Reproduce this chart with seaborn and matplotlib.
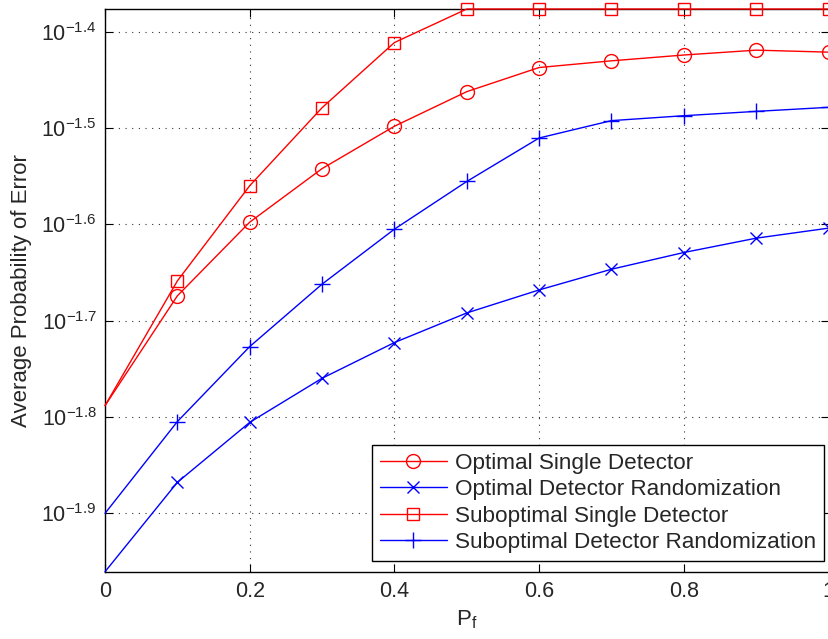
import numpy as np
import pandas as pd
import matplotlib
matplotlib.use("Agg")
import matplotlib.pyplot as plt
from matplotlib.ticker import FixedLocator, NullLocator, FixedFormatter
import seaborn as sns

# False-alarm probability grid
pf = [0.0, 0.1, 0.2, 0.3, 0.4, 0.5, 0.6, 0.7, 0.8, 0.9, 1.0]

# Average probability of error for each scheme
optimal_single = [0.01629, 0.02118, 0.02526, 0.02871, 0.03177, 0.03451,
                  0.03656, 0.03715, 0.03767, 0.03811, 0.03793]
optimal_random = [0.01095, 0.01356, 0.01565, 0.01739, 0.01894, 0.02033,
                  0.02148, 0.02257, 0.02349, 0.02431, 0.02490]
subopt_single = [0.01629, 0.02195, 0.02756, 0.03321, 0.03881, 0.04205,
                 0.04205, 0.04205, 0.04205, 0.04205, 0.04205]
subopt_random = [0.01259, 0.01568, 0.01876, 0.02178, 0.02484, 0.02784,
                 0.03089, 0.03220, 0.03258, 0.03292, 0.03324]

series_names = ["Optimal Single Detector",
                "Optimal Detector Randomization",
                "Suboptimal Single Detector",
                "Suboptimal Detector Randomization"]

ytick_exps = [-1.9, -1.8, -1.7, -1.6, -1.5, -1.4]
xticks = [0, 0.2, 0.4, 0.6, 0.8, 1]
xtick_labels = ["0", "0.2", "0.4", "0.6", "0.8", "1"]

sns.set_theme(style="white")
plt.rcParams["font.family"] = ["Liberation Sans", "DejaVu Sans"]
plt.rcParams["mathtext.fontset"] = "custom"
plt.rcParams["mathtext.rm"] = "Liberation Sans"
plt.rcParams["mathtext.it"] = "Liberation Sans"
plt.rcParams["mathtext.bf"] = "Liberation Sans:bold"

fig = plt.figure(figsize=(8.29, 6.39), dpi=100)
ax = fig.add_axes([0.1267, 0.1053, 0.8727, 0.8806])

styles = [
    (optimal_single, "red", "o", 10),
    (optimal_random, "blue", "x", 8),
    (subopt_single, "red", "s", 9),
    (subopt_random, "blue", "+", 11),
]
for (vals, col, mk, ms), name in zip(styles, series_names):
    df = pd.DataFrame({"pf": pf, "pe": vals})
    sns.lineplot(data=df, x="pf", y="pe", ax=ax, color=col, marker=mk,
                 markersize=ms, markerfacecolor="none", markeredgecolor=col,
                 markeredgewidth=1.0, linewidth=1.0, label=name,
                 markevery=list(range(1, len(pf))),
                 clip_on=False, zorder=3)

ax.set_yscale("log")
ax.set_xlim(0, 1)
ax.set_ylim(min(optimal_random), max(subopt_single))

ax.xaxis.set_major_locator(FixedLocator(xticks))
ax.xaxis.set_major_formatter(FixedFormatter(xtick_labels))
ax.yaxis.set_major_locator(FixedLocator([10 ** e for e in ytick_exps]))
ax.yaxis.set_major_formatter(FixedFormatter(
    [r"$10^{%s}$" % ("\u2212" + str(abs(e))) for e in ytick_exps]))
ax.yaxis.set_minor_locator(NullLocator())
ax.xaxis.set_minor_locator(NullLocator())

ax.tick_params(axis="both", which="major", direction="in", length=6,
               width=0.8, color="black",
               top=True, right=True, bottom=True, left=True)
ax.tick_params(axis="x", labelsize=15.5, pad=7)
ax.tick_params(axis="y", labelsize=15.5, pad=6)

ax.grid(True, which="major", color="#333333", linestyle=(0, (1, 5)),
        linewidth=0.8)

for sp in ax.spines.values():
    sp.set_color("black")
    sp.set_linewidth(1.0)

ax.set_xlabel(r"P$_\mathrm{f}$", fontsize=16, labelpad=4)
ax.set_ylabel("Average Probability of Error", fontsize=16)
ax.yaxis.set_label_coords(-0.101, 0.50)

leg = ax.legend(loc="lower right", bbox_to_anchor=(0.9938, 0.0190),
                fontsize=16.2, frameon=True, fancybox=False,
                edgecolor="black", handlelength=3.0, handletextpad=0.35,
                borderpad=0.35, labelspacing=0.24, borderaxespad=0.0)
leg.get_frame().set_linewidth(1.0)
leg.get_frame().set_alpha(1.0)

fig.savefig("out.png", dpi=100)
